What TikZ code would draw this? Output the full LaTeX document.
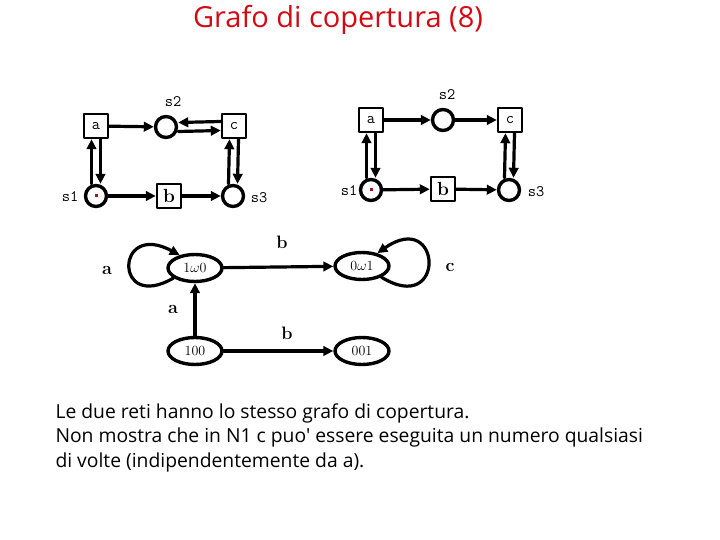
\documentclass[tikz,border=0pt]{standalone}
\usepackage{fontspec}
\newfontfamily\comicfont{Open Sans}
\usetikzlibrary{arrows.meta,shapes.geometric}
\definecolor{titlered}{RGB}{210,10,20}
\definecolor{tokenred}{RGB}{170,20,30}

\begin{document}
\begin{tikzpicture}[line cap=round,line join=round,>={Triangle[length=10pt,width=9.5pt]},x=1pt,y=-1pt,
    place/.style={circle,draw,line width=3.4pt,minimum size=21pt,inner sep=0pt},
    trans/.style={rectangle,draw,line width=2.4pt,minimum size=24pt,inner sep=0pt,font=\ttfamily\fontsize{16}{16}\selectfont},
    transb/.style={trans,font=\bfseries\fontsize{19}{19}\selectfont},
    plabel/.style={font=\ttfamily\fontsize{16}{16}\selectfont},
    arc/.style={->,line width=3.2pt},
    marking/.style={ellipse,draw,line width=3.4pt,minimum width=54pt,minimum height=27pt,inner sep=0pt,font=\fontsize{14}{14}\selectfont},
    glabel/.style={font=\bfseries\fontsize{18}{18}\selectfont}]
    \useasboundingbox (0,0) rectangle (720,540);
    \node[text=titlered,font=\comicfont\fontsize{29}{29}\selectfont] (title) at (338,20) {Grafo di copertura (8)};
    % first net
    \node[trans] (la) at (96,126) {a};
    \node[place] (ls2) at (166,127) {};
    \node[trans] (lc) at (234,126) {c};
    \node[place] (ls1) at (96,196) {};
    \node[transb] (lb) at (169,196) {b};
    \node[place] (ls3) at (233,196) {};
    \node[plabel] (ls2t) at (173,102) {s2};
    \node[plabel] (ls1t) at (70,197) {s1};
    \node[plabel] (ls3t) at (259,198) {s3};
    \fill[tokenred] (94.5,194.5) rectangle (97.5,197.5);
    \draw[arc] (la) -- (ls2);
    \draw[arc] ([yshift=4.5pt]lc.west) -- ([yshift=4.5pt]ls2.east);
    \draw[arc] ([yshift=-4.5pt]ls2.east) -- ([yshift=-4.5pt]lc.west);
    \draw[arc] ([xshift=-4.5pt]ls1.north) -- ([xshift=-4.5pt]la.south);
    \draw[arc] ([xshift=4.5pt]la.south) -- ([xshift=4.5pt]ls1.north);
    \draw[arc] (ls1) -- (lb);
    \draw[arc] (lb) -- (ls3);
    \draw[arc] ([xshift=-4.5pt]ls3.north) -- ([xshift=-4.5pt]lc.south);
    \draw[arc] ([xshift=4.5pt]lc.south) -- ([xshift=4.5pt]ls3.north);
    % second net
    \node[trans] (ra) at (371,120) {a};
    \node[place] (rs2) at (443,120) {};
    \node[trans] (rc) at (510,120) {c};
    \node[place] (rs1) at (371,190) {};
    \node[transb] (rb) at (443,189) {b};
    \node[place] (rs3) at (509,190) {};
    \node[plabel] (rs2t) at (447,95) {s2};
    \node[plabel] (rs1t) at (349,191) {s1};
    \node[plabel] (rs3t) at (536,192) {s3};
    \fill[tokenred] (369.5,188.5) rectangle (372.5,191.5);
    \draw[arc] (ra) -- (rs2);
    \draw[arc] (rs2) -- (rc);
    \draw[arc] ([xshift=-4.5pt]rs1.north) -- ([xshift=-4.5pt]ra.south);
    \draw[arc] ([xshift=4.5pt]ra.south) -- ([xshift=4.5pt]rs1.north);
    \draw[arc] (rs1) -- (rb);
    \draw[arc] (rb) -- (rs3);
    \draw[arc] ([xshift=-4.5pt]rs3.north) -- ([xshift=-4.5pt]rc.south);
    \draw[arc] ([xshift=4.5pt]rc.south) -- ([xshift=4.5pt]rs3.north);
    % coverability graph
    \node[marking] (m1w0) at (195,268) {1$\omega$0};
    \node[marking] (m0w1) at (362,266) {0$\omega$1};
    \node[marking] (m100) at (195,351) {100};
    \node[marking] (m001) at (362,351) {001};
    \draw[arc] (m1w0) -- (m0w1);
    \draw[arc] (m100) -- (m1w0);
    \draw[arc] (m100) -- (m001);
    \draw[arc] (m1w0.205) .. controls +(-60,35) and +(-65,-35) .. (m1w0.140);
    \draw[arc] (m0w1.-30) .. controls +(65,40) and +(65,-45) .. (m0w1.40);
    \node[glabel] (ga1) at (107,270) {a};
    \node[glabel] (gb1) at (282,242) {b};
    \node[glabel] (gc) at (450,267) {c};
    \node[glabel] (ga2) at (173,309) {a};
    \node[glabel] (gb2) at (287,333) {b};
    \node[anchor=north west,align=left,font=\comicfont\fontsize{19.3}{24.5}\selectfont] (note) at (52,400)
      {Le due reti hanno lo stesso grafo di copertura.\\
       Non mostra che in N1 c puo' essere eseguita un numero qualsiasi\\
       di volte (indipendentemente da a).};
\end{tikzpicture}
\end{document}
